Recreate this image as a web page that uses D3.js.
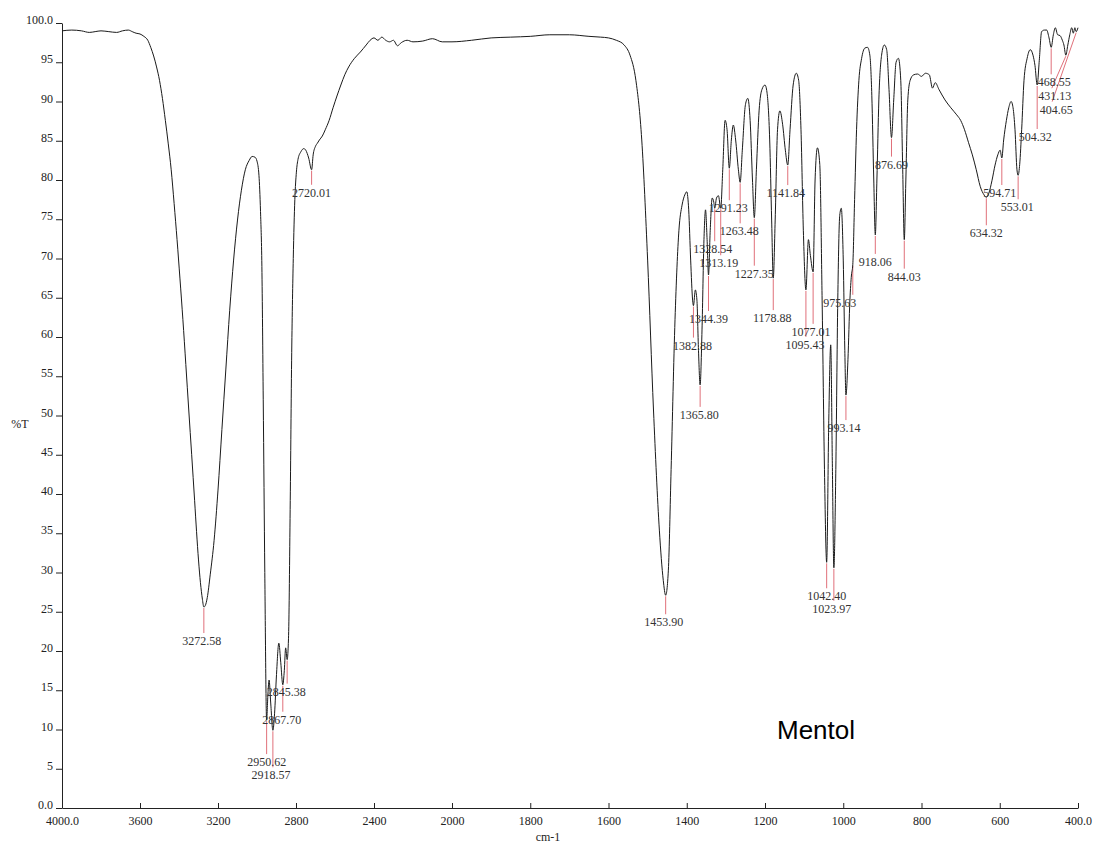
<!DOCTYPE html>
<html>
<head>
<meta charset="utf-8">
<script src="https://cdn.jsdelivr.net/npm/d3@7"></script>
<style>
  html, body { margin: 0; padding: 0; background: #fff; }
  svg { display: block; }
  .serif { font-family: "Liberation Serif", "Times New Roman", serif; }
</style>
</head>
<body>
<svg id="chart" width="1093" height="846"></svg>
<script>
// spectrum: wavenumber (cm-1) and %T
const wavenumbers = [
  4000, 3950, 3900, 3860, 3830, 3800, 3760, 3720, 3690, 3660, 3640, 3620, 3600, 3580, 3560, 3545,
  3530, 3515, 3500, 3485, 3470, 3455, 3440, 3425, 3410, 3395, 3380, 3365, 3350, 3335, 3320, 3310,
  3300, 3290, 3280, 3272.58, 3265, 3255, 3240, 3220, 3200, 3180, 3160, 3140, 3120, 3100, 3080, 3060,
  3040, 3025, 3010, 3000, 2990, 2982, 2975, 2968, 2960, 2950.62, 2944, 2938, 2930, 2918.57, 2910, 2900,
  2888, 2878, 2867.7, 2860, 2853, 2845.38, 2838, 2830, 2822, 2814, 2806, 2798, 2790, 2775, 2760, 2750,
  2735, 2720.01, 2712, 2700, 2690, 2680, 2665, 2650, 2630, 2610, 2590, 2570, 2550, 2530, 2500, 2470,
  2440, 2420, 2400, 2380, 2360, 2340, 2320, 2300, 2280, 2260, 2230, 2200, 2150, 2100, 2050, 2000,
  1950, 1900, 1850, 1800, 1750, 1700, 1650, 1620, 1600, 1580, 1560, 1545, 1530, 1515, 1500, 1485,
  1470, 1460, 1453.9, 1447, 1440, 1430, 1420, 1412, 1405, 1400, 1395, 1390, 1385, 1382.88, 1378, 1374,
  1370, 1365.8, 1361, 1356, 1352, 1348, 1344.39, 1340, 1335, 1331, 1328.54, 1324, 1319, 1313.19, 1308, 1302,
  1297, 1291.23, 1286, 1281, 1275, 1268, 1263.48, 1258, 1250, 1244, 1238, 1232, 1227.35, 1222, 1215, 1208,
  1200, 1195, 1188, 1183, 1178.88, 1174, 1168, 1162, 1155, 1148, 1141.84, 1136, 1128, 1120, 1114, 1108,
  1102, 1095.43, 1089, 1084, 1077.01, 1072, 1066, 1060, 1054, 1048, 1042.4, 1037, 1032, 1028, 1023.97, 1019,
  1014, 1009, 1005, 1000, 996, 993.14, 988, 983, 979, 975.63, 971, 966, 960, 953, 945, 938,
  932, 927, 922, 918.06, 914, 909, 902, 895, 889, 883, 876.69, 871, 865, 859, 853, 848,
  844.03, 840, 835, 829, 820, 810, 800, 790, 780, 772, 765, 755, 740, 725, 710, 700,
  690, 680, 670, 660, 650, 640, 634.32, 628, 620, 612, 605, 599, 594.71, 590, 583, 577,
  571, 566, 561, 556, 553.01, 549, 544, 538, 530, 522, 515, 510, 504.32, 499, 493, 486,
  480, 474, 468.55, 463, 458, 452, 446, 440, 436, 431.13, 426, 421, 416, 412, 408, 404.65, 400
];
const transmittance = [
  99.0, 99.1, 99.0, 98.8, 98.9, 99.0, 98.9, 98.8, 99.0, 99.1, 98.9, 98.7, 98.6, 98.3, 97.8, 96.9,
  95.8, 94.4, 92.7, 90.4, 87.6, 84.6, 81.3, 77.0, 72.4, 67.4, 62.2, 56.5, 50.7, 45.0, 39.2, 35.2,
  31.6, 28.7, 26.6, 25.6, 25.8, 26.8, 29.7, 34.1, 40.5, 48.2, 55.8, 63.4, 69.8, 74.9, 78.7, 81.3,
  82.5, 83.0, 82.9, 82.4, 80.6, 76.0, 69.0, 52.0, 30.0, 11.2, 14.5, 16.3, 13.5, 9.9, 12.0, 17.0,
  21.0, 18.5, 15.7, 17.5, 20.4, 18.9, 22.0, 38.0, 58.0, 70.0, 77.5, 81.0, 82.6, 83.6, 84.0, 83.8,
  82.8, 81.3, 83.2, 84.3, 84.7, 85.1, 85.6, 86.4, 87.6, 89.2, 90.7, 92.1, 93.4, 94.4, 95.5, 96.3,
  97.2, 97.8, 98.1, 97.8, 98.2, 97.8, 97.6, 97.8, 97.1, 97.5, 97.8, 97.6, 97.7, 98.0, 97.6, 97.6,
  97.8, 98.1, 98.2, 98.3, 98.5, 98.5, 98.3, 98.2, 98.1, 97.8, 97.2, 95.9, 92.7, 85.1, 69.8, 50.7,
  35.4, 29.0, 27.1, 30.3, 43.1, 62.2, 73.6, 76.8, 78.1, 78.5, 76.2, 69.8, 64.7, 64.0, 66.0, 64.7,
  58.3, 53.9, 60.9, 72.4, 76.2, 72.4, 67.9, 73.6, 77.7, 77.2, 76.4, 77.7, 78.0, 76.4, 81.3, 87.6,
  86.4, 81.5, 85.1, 87.0, 85.1, 81.3, 79.7, 83.8, 89.6, 90.4, 87.6, 80.0, 75.2, 81.3, 88.9, 91.5,
  92.1, 91.2, 85.1, 74.9, 67.5, 74.9, 86.4, 88.8, 87.1, 83.8, 81.9, 86.4, 92.1, 93.6, 92.7, 86.4,
  73.6, 66.0, 72.4, 70.4, 68.3, 80.0, 84.1, 82.0, 64.7, 43.1, 31.3, 49.4, 59.0, 44.3, 30.6, 43.1,
  64.7, 75.5, 76.4, 69.8, 58.3, 52.6, 57.1, 64.7, 67.9, 69.2, 77.5, 86.4, 92.7, 95.5, 96.8, 96.9,
  95.9, 90.8, 80.0, 73.0, 80.0, 90.2, 95.9, 97.2, 96.6, 91.5, 85.4, 90.2, 95.0, 95.5, 92.7, 81.3,
  72.4, 80.0, 90.2, 92.7, 93.4, 93.5, 93.2, 93.6, 93.4, 91.7, 92.4, 91.5, 90.2, 89.2, 88.3, 87.6,
  86.4, 84.8, 83.2, 81.3, 79.2, 78.1, 77.8, 78.3, 79.9, 81.9, 83.2, 83.8, 82.8, 85.1, 87.6, 89.2,
  90.0, 89.2, 86.4, 81.3, 80.6, 82.0, 86.4, 92.7, 95.5, 96.6, 95.9, 94.6, 92.1, 95.2, 98.9, 99.1,
  99.1, 98.1, 96.9, 98.5, 99.4, 98.5, 98.4, 97.8, 97.2, 95.9, 97.2, 98.5, 99.4, 98.7, 99.4, 98.9, 99.4
];

// picked peaks
const peakWn = [3272.58, 2950.62, 2918.57, 2867.70, 2845.38, 2720.01, 1453.90, 1382.88, 1365.80,
  1344.39, 1328.54, 1313.19, 1291.23, 1263.48, 1227.35, 1178.88, 1141.84, 1095.43, 1077.01,
  1042.40, 1023.97, 993.14, 975.63, 918.06, 876.69, 844.03, 634.32, 594.71, 553.01, 504.32,
  468.55, 431.13, 404.65];
const peakT = [25.6, 11.2, 9.9, 15.7, 18.9, 81.3, 27.1, 64.0, 53.9, 67.9, 76.4, 76.4, 81.5, 79.7,
  75.2, 67.5, 81.9, 66.0, 68.3, 31.3, 30.6, 52.6, 69.2, 73.0, 85.4, 72.4, 77.8, 82.8, 80.6, 92.1,
  96.9, 95.9, 98.9];

const xTicks = [4000, 3600, 3200, 2800, 2400, 2000, 1800, 1600, 1400, 1200, 1000, 800, 600, 400];
const yTicks = [0, 5, 10, 15, 20, 25, 30, 35, 40, 45, 50, 55, 60, 65, 70, 75, 80, 85, 90, 95, 100];

// label placement for each peak: [dx, dy, line end dx] in px
const labelLayout = [
  [-2, 34, 0], [0, 42, 0], [-2, 45, 0], [-1, 35, 0], [-1, 32, 0], [0, 23, 0], [-2, 27, 0],
  [-1, 40, 0], [-1, 30, 0], [0, 44, 0], [-2, 41, 0], [-2, 55, 0], [-1, 40, 0], [-1, 49, 0],
  [0, 56, 0], [-1, 40, 0], [-2, 28, 0], [-1, 55, 0], [-2, 60, 0], [0, 34, 0], [-2, 41, 0],
  [-2, 33, 0], [-13, 38, 0], [0, 27, 0], [0, 27, 0], [0, 37, 0], [0, 36, 0], [-2, 35, 0],
  [-1, 32, 0], [-2, 52, 0], [3, 35, 0], [-11, 41, -14], [-20, 78, -24]
];

const svg = d3.select("#chart");

const x = d3.scaleLinear().domain([4000, 2000, 400]).range([62, 452, 1078]);
const y = d3.scaleLinear().domain([0, 100]).range([808, 23]);

// axes
const xAxis = svg.append("g")
    .attr("class", "serif")
    .attr("transform", "translate(0,808)")
    .call(d3.axisBottom(x).tickValues(xTicks).tickSizeInner(-5).tickSizeOuter(0).tickPadding(8)
        .tickFormat(d => (d === 4000 || d === 400) ? d.toFixed(1) : d));
xAxis.selectAll("text").attr("font-size", 12).attr("fill", "#222")
    .attr("font-family", "Liberation Serif, serif");
xAxis.selectAll("line, path").attr("stroke", "#222");

const yAxis = svg.append("g")
    .attr("transform", "translate(62,0)")
    .call(d3.axisLeft(y).tickValues(yTicks).tickSizeInner(6).tickSizeOuter(0).tickPadding(3)
        .tickFormat(d => (d === 0 || d === 100) ? d.toFixed(1) : d));
yAxis.selectAll("text").attr("font-size", 12).attr("fill", "#222").attr("dy", "0.05em")
    .attr("font-family", "Liberation Serif, serif");
yAxis.selectAll("line, path").attr("stroke", "#222");

svg.append("text").attr("class", "serif")
    .attr("x", 20).attr("y", 428).attr("text-anchor", "middle")
    .attr("font-size", 12).attr("fill", "#222").text("%T");
svg.append("text").attr("class", "serif")
    .attr("x", 548).attr("y", 841).attr("text-anchor", "middle")
    .attr("font-size", 12).attr("fill", "#222").text("cm-1");

// peak markers (red) under the curve
const peaks = peakWn.map((wn, i) => ({ wn, t: peakT[i], lay: labelLayout[i] }));

svg.append("g").selectAll("line")
    .data(peaks)
    .enter().append("line")
    .attr("x1", d => x(d.wn))
    .attr("y1", d => y(d.t) + 1)
    .attr("x2", d => x(d.wn) + d.lay[2])
    .attr("y2", d => y(d.t) + d.lay[1] - 8)
    .attr("stroke", "#e0707a")
    .attr("stroke-width", 1);

// spectrum
const spectrum = wavenumbers.map((wn, i) => [wn, transmittance[i]]);
const line = d3.line()
    .x(d => x(d[0]))
    .y(d => y(d[1]))
    .curve(d3.curveMonotoneX);

svg.append("path")
    .datum(spectrum)
    .attr("d", line)
    .attr("fill", "none")
    .attr("stroke", "#1a1a1a")
    .attr("stroke-width", 1);

svg.append("g").selectAll("text")
    .data(peaks)
    .enter().append("text")
    .attr("class", "serif")
    .attr("x", d => x(d.wn) + d.lay[0])
    .attr("y", d => y(d.t) + d.lay[1] + 4)
    .attr("text-anchor", "middle")
    .attr("font-size", 12)
    .attr("fill", "#333")
    .text(d => d.wn.toFixed(2));

svg.append("text")
    .attr("x", 777).attr("y", 739)
    .attr("font-family", "Liberation Sans, Arial, sans-serif")
    .attr("font-size", 26)
    .attr("fill", "#000")
    .text("Mentol");
</script>
</body>
</html>
